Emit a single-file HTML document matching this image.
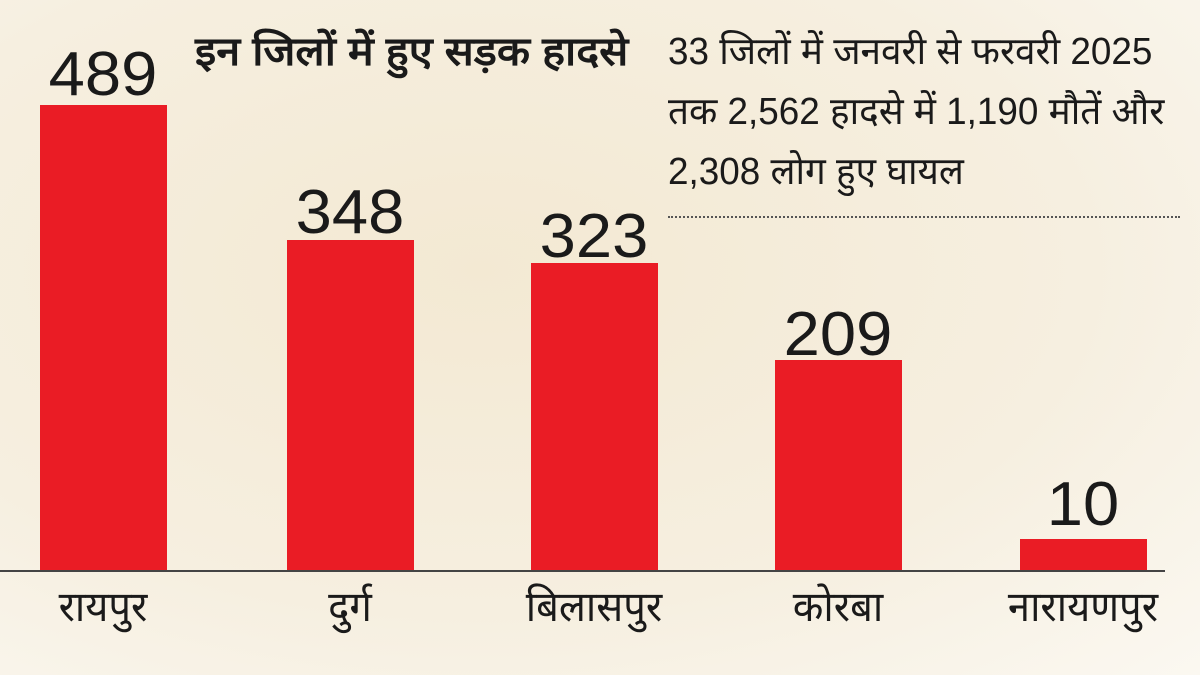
<!DOCTYPE html>
<html><head><meta charset="utf-8"><style>
body{margin:0;width:1200px;height:675px;overflow:hidden;background:#f4ecda;font-family:"Liberation Sans","Noto Sans CJK SC",sans-serif;}
.bg{position:absolute;left:0;top:0;width:1200px;height:675px;background:radial-gradient(ellipse at 40% 40%,#f3e9d3 0%,#f6efe0 60%,#fbf8f1 100%);}
.bar{position:absolute;background:#ea1c25;width:127px;bottom:104px;}
.v{position:absolute;font-size:62px;color:#1a1a1a;text-align:center;width:200px;line-height:1;transform:scaleX(1.05);}
.c{position:absolute;font-size:42px;color:#1a1a1a;text-align:center;width:220px;top:582px;line-height:1.2;transform:scaleX(.95);}
.t{position:absolute;color:#1a1a1a;line-height:1;white-space:nowrap;}
</style></head><body><div class="bg"></div>
<div class="t" style="left:195px;top:32px;font-size:40px;font-weight:bold;transform:scaleX(1.08);transform-origin:left">इन जिलों में हुए सड़क हादसे</div>
<div class="t" style="left:668px;top:22px;font-size:38px;transform:scaleX(0.97);transform-origin:left;line-height:60px">33 जिलों में जनवरी से फरवरी 2025<br>तक 2,562 हादसे में 1,190 मौतें और<br>2,308 लोग हुए घायल</div>
<div style="position:absolute;left:668px;top:216px;width:512px;border-top:2px dotted #555"></div>
<div class="bar" style="left:40px;height:466px"></div>
<div class="bar" style="left:287px;height:331px"></div>
<div class="bar" style="left:531px;height:308px"></div>
<div class="bar" style="left:775px;height:211px"></div>
<div class="bar" style="left:1020px;height:32px"></div>
<div style="position:absolute;left:0;top:570px;width:1165px;height:2px;background:#444"></div>
<div class="v" style="left:3px;top:44px">489</div>
<div class="v" style="left:250px;top:182px">348</div>
<div class="v" style="left:494px;top:206px">323</div>
<div class="v" style="left:738px;top:304px">209</div>
<div class="v" style="left:983px;top:474px">10</div>
<div class="c" style="left:-7px">रायपुर</div>
<div class="c" style="left:240px">दुर्ग</div>
<div class="c" style="left:484px">बिलासपुर</div>
<div class="c" style="left:728px">कोरबा</div>
<div class="c" style="left:973px">नारायणपुर</div>
</body></html>
